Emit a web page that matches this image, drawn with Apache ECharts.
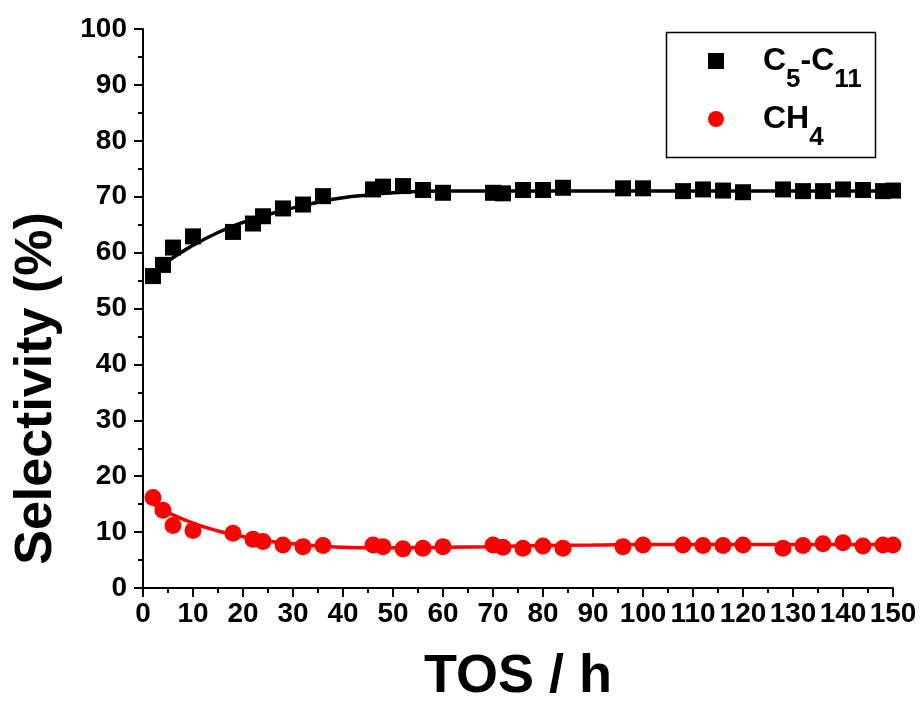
<!DOCTYPE html>
<html>
<head>
<meta charset="utf-8">
<script src="https://cdn.jsdelivr.net/npm/echarts@6/dist/echarts.min.js"></script>
<style>html,body{margin:0;padding:0;background:#fff}#c{width:920px;height:709px}</style>
</head>
<body>
<div id="c"></div>
<script>
// Measured points (TOS in h)
const tos = [2,4,6,10,18,22,24,28,32,36,46,48,52,56,60,70,72,76,80,84,96,100,108,112,116,120,128,132,136,140,144,148,150];
const selC5C11 = [55.8,57.8,60.9,62.9,63.7,65.2,66.5,67.9,68.6,70.1,71.3,71.8,71.9,71.2,70.7,70.7,70.6,71.2,71.2,71.6,71.5,71.5,71.0,71.3,71.1,70.8,71.3,71.0,71.0,71.3,71.2,71.0,71.1];
const selCH4 = [16.2,13.9,11.2,10.3,9.8,8.7,8.3,7.7,7.4,7.6,7.7,7.4,7.0,7.1,7.4,7.7,7.3,7.1,7.5,7.1,7.4,7.7,7.7,7.6,7.6,7.7,7.1,7.6,7.9,8.1,7.5,7.7,7.7];
// Fitted curves
const fitX = [2,5,10,15,20,25,30,35,40,45,50,60,70,80,90,100,110,120,130,140,150];
const fitC5C11 = [56.3,58.5,61.3,63.6,65.4,66.8,68.0,69.0,69.8,70.3,70.7,71.0,71.0,71.0,71.0,71.0,71.0,71.0,71.0,71.0,71.0];
const fitCH4 = [15.0,13.5,11.6,10.2,9.2,8.4,7.9,7.5,7.3,7.2,7.2,7.3,7.4,7.6,7.7,7.8,7.8,7.8,7.8,7.8,7.8];
const seriesNames = ['C5-C11', 'CH4'];
const legendRich = {'C5-C11': '{c|C}{s|5}{c|-C}{s|11}', 'CH4': '{c|CH}{s|4}'};
const xTitle = 'TOS / h';
const yTitle = 'Selectivity (%)';

const pair = (xs, ys) => xs.map((x, i) => [x, ys[i]]);
const FONT = "'Liberation Sans Narrow', 'Liberation Sans', Arial, sans-serif";
const FONTW = "'Liberation Sans', Arial, sans-serif";

const chart = echarts.init(document.getElementById('c'), null, {renderer: 'canvas'});
const axisCommon = {
  axisLine: {show: true, lineStyle: {color: '#000', width: 2}},
  axisTick: {show: true, inside: false, length: 9, lineStyle: {color: '#000', width: 2}},
  minorTick: {show: true, splitNumber: 2, length: 5, lineStyle: {color: '#000', width: 2}},
  splitLine: {show: false},
  axisLabel: {color: '#000', fontSize: 28, fontWeight: 'bold', fontFamily: FONT}
};
chart.setOption({
  animation: false,
  backgroundColor: '#fff',
  grid: {left: 143, right: 27, top: 29, bottom: 120, containLabel: false},
  xAxis: Object.assign({}, axisCommon, {
    type: 'value', min: 0, max: 150, interval: 10,
    axisLabel: Object.assign({}, axisCommon.axisLabel, {margin: 12}),
    name: xTitle, nameLocation: 'middle', nameGap: 62,
    nameTextStyle: {color: '#000', fontSize: 54, fontWeight: 'bold', fontFamily: FONTW}
  }),
  yAxis: Object.assign({}, axisCommon, {
    type: 'value', min: 0, max: 100, interval: 10,
    axisLabel: Object.assign({}, axisCommon.axisLabel, {margin: 16}),
    name: yTitle, nameLocation: 'middle', nameGap: 80, nameRotate: 90,
    nameTextStyle: {color: '#000', fontSize: 52, fontWeight: 'bold', fontFamily: FONTW, padding: [0, 160, 0, 0]}
  }),
  legend: {
    orient: 'vertical', left: 708, top: 29, padding: 0, itemWidth: 16, itemHeight: 16, itemGap: -6,
    data: [{name: seriesNames[0], icon: 'rect'}, {name: seriesNames[1], icon: 'circle'}],
    formatter: function (n) { return legendRich[n]; },
    textStyle: {
      padding: [0, 0, 0, 34],
      rich: {
        c: {fontSize: 32, fontWeight: 'bold', fontFamily: FONTW, color: '#000', lineHeight: 32},
        s: {fontSize: 26, fontWeight: 'bold', fontFamily: FONTW, color: '#000', lineHeight: 26, padding: [38, 0, 0, 0]}
      }
    }
  },
  graphic: [{
    type: 'rect', left: 664, top: 30, z: 100,
    shape: {width: 209, height: 125},
    style: {fill: 'none', stroke: '#000', lineWidth: 1.5}
  }],
  series: [
    {name: 'fit1', type: 'line', smooth: true, showSymbol: false, data: pair(fitX, fitC5C11),
     lineStyle: {color: '#000', width: 3.5}, z: 2, silent: true},
    {name: 'fit2', type: 'line', smooth: true, showSymbol: false, data: pair(fitX, fitCH4),
     lineStyle: {color: '#ff0000', width: 3.5}, z: 2, silent: true},
    {name: seriesNames[0], type: 'scatter', symbol: 'rect', symbolSize: 16, data: pair(tos, selC5C11),
     itemStyle: {color: '#000', opacity: 1}, z: 3},
    {name: seriesNames[1], type: 'scatter', symbol: 'circle', symbolSize: 17, data: pair(tos, selCH4),
     itemStyle: {color: '#ff0000', opacity: 1}, z: 3}
  ]
});
</script>
</body>
</html>
